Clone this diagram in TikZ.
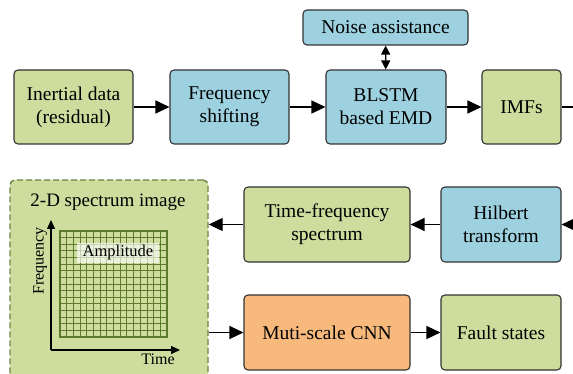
\documentclass[tikz,border=0pt]{standalone}
\usepackage{fontspec}
\setmainfont{Liberation Serif}
\usetikzlibrary{positioning,arrows.meta,shapes}

\definecolor{leaf}{HTML}{CEDC9E}
\definecolor{sky}{HTML}{9DD1E0}
\definecolor{peach}{HTML}{F7BA7C}
\definecolor{olive}{HTML}{6E8440}
\definecolor{gridgreen}{HTML}{5E7A2C}

\tikzset{
	block/.style={draw=black!80, line width=1.1pt, rounded corners=4pt,
		align=center, inner sep=2pt,
		font=\fontsize{19.5}{23}\selectfont},
	leafblock/.style={block, fill=leaf},
	skyblock/.style={block, fill=sky},
	flow/.style={-{Triangle[length=14pt,width=13pt]}, line width=1.2pt},
	both/.style={{Triangle[length=9pt,width=9pt]}-{Triangle[length=9pt,width=9pt]}, line width=1.2pt}
}

\begin{document}
\begin{tikzpicture}[x=1pt,y=-1pt]
	\useasboundingbox (0,0) rectangle (573,374);
	\clip (0,0) rectangle (573,374);

	% first row
	\node (inertial) [leafblock, minimum width=119pt, minimum height=74pt] at (73.5,107) {Inertial data\\(residual)};
	\node (shift) [skyblock, minimum width=119pt, minimum height=74pt] at (229.5,107) {Frequency\\shifting};
	\node (emd) [skyblock, minimum width=120pt, minimum height=74pt] at (386,107) {BLSTM\\based EMD};
	\node (noise) [skyblock, minimum width=165pt, minimum height=35pt] at (385.5,27.5) {Noise assistance};
	\node (imfs) [leafblock, minimum width=79pt, minimum height=74pt] at (521.5,107) {IMFs};
	\coordinate (out) at (573,107);

	% second row
	\coordinate (in) at (573,224.5);
	\node (hilbert) [skyblock, minimum width=120pt, minimum height=75pt] at (501,224.5) {Hilbert\\transform};
	\node (tfs) [leafblock, minimum width=166pt, minimum height=75pt] at (327,224.5) {Time-frequency\\spectrum};

	% third row
	\node (cnn) [block, fill=peach, minimum width=166pt, minimum height=75pt] at (327,332.5) {Muti-scale CNN};
	\node (fault) [leafblock, minimum width=120pt, minimum height=75pt] at (501,332.5) {Fault states};

	% spectrum image
	\node (img) [draw=olive, fill=leaf, dash pattern=on 6pt off 3pt, line width=1.4pt, rounded corners=5pt,
		minimum width=198pt, minimum height=210pt] at (109,285) {};
	\node (title) [font=\fontsize{19}{21}\selectfont] at (108,202) {2-D spectrum image};
	\foreach \i in {0,...,16} {
		\draw[gridgreen, line width=0.8pt] ({60+\i*107/16},231) -- ({60+\i*107/16},337);
		\draw[gridgreen, line width=0.8pt] (60,{231+\i*106/16}) -- (167,{231+\i*106/16});
	}
	\draw[gridgreen, line width=1.2pt] (60,231) rectangle (167,337);
	\node (amp) [fill=white, fill opacity=0.65, text opacity=1, inner sep=0pt,
		minimum width=82pt, minimum height=19pt, font=\fontsize{16.5}{18}\selectfont] at (118,253) {Amplitude};
	\coordinate (origin) at (51,350);
	\coordinate (ytop) at (51,220);
	\coordinate (xend) at (180,350);
	\draw[-{Triangle[length=9pt,width=8pt]}, line width=1.1pt] (origin) -- (ytop);
	\draw[-{Triangle[length=9pt,width=8pt]}, line width=1.1pt] (origin) -- (xend);
	\node (freq) [rotate=90, font=\fontsize{16}{18}\selectfont] at (40,261) {Frequency};
	\node (time) [font=\fontsize{16}{18}\selectfont] at (158,359) {Time};

	% connectors
	\draw[flow] (inertial) -- (shift);
	\draw[flow] (shift) -- (emd);
	\draw[flow] (emd) -- (imfs);
	\draw[both] (noise) -- (emd);
	\draw[line width=1.2pt] (imfs) -- (out);
	\draw[flow] (in) -- (hilbert);
	\draw[flow] (hilbert) -- (tfs);
	\draw[flow] (tfs.west) -- (tfs.west -| img.east);
	\draw[flow] (cnn.west -| img.east) -- (cnn.west);
	\draw[flow] (cnn) -- (fault);
\end{tikzpicture}
\end{document}
